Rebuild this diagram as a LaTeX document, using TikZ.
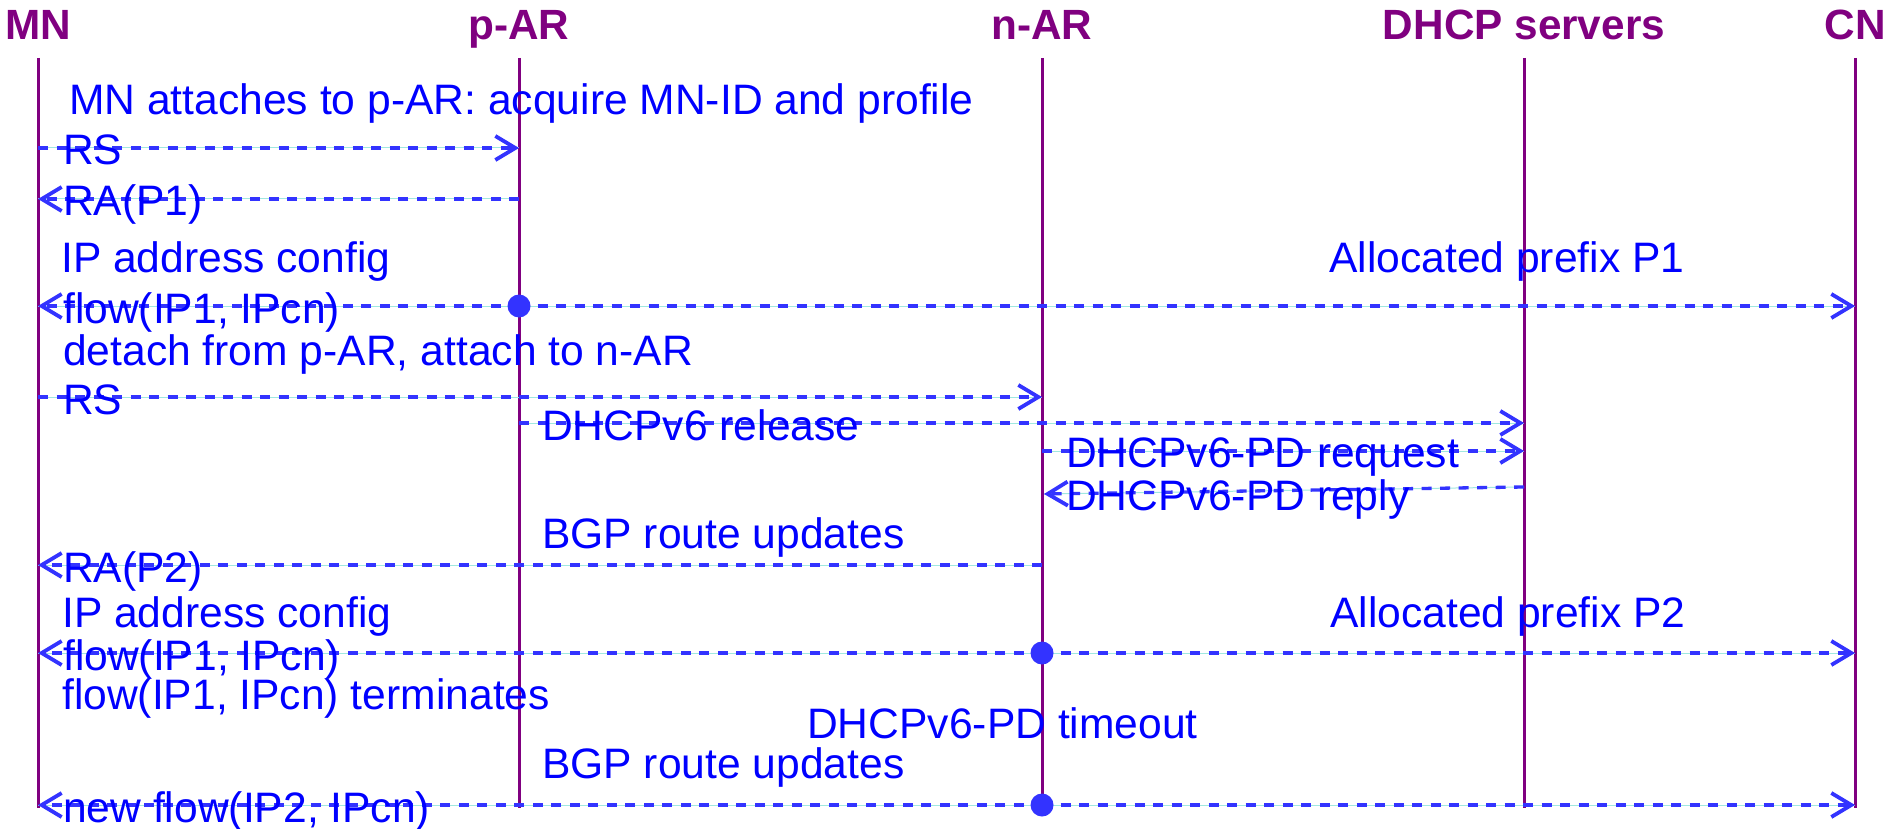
\documentclass[tikz,border=0pt]{standalone}
\usepackage{fontspec}
\setmainfont{Liberation Sans}
\usetikzlibrary{arrows.meta}
\definecolor{lifecol}{RGB}{128,0,128}
\definecolor{msgcol}{RGB}{51,51,255}
\definecolor{txtcol}{RGB}{0,0,255}
\definecolor{guidecol}{RGB}{160,232,224}
\tikzset{
  lifeline/.style={draw=lifecol, line width=3pt},
  header/.style={text=lifecol, font=\fontsize{42.3}{50}\selectfont\bfseries, anchor=base, inner sep=0pt},
  note/.style={text=txtcol, font=\fontsize{42.6}{50}\selectfont, anchor=base west, inner sep=0pt},
  guide/.style={draw=guidecol, line width=1pt},
  msg/.style={draw=msgcol, line width=3.3pt, dash pattern=on 10pt off 8.5pt,
    -{Straight Barb[length=20pt,width=24pt,line width=3.8pt]}},
  dot/.style={circle, fill=msgcol, minimum size=23pt, inner sep=0pt},
}
\begin{document}
\begin{tikzpicture}[x=1pt,y=-1pt]
\fill[white] (0,0) rectangle (1889,829);
\useasboundingbox (0,0) rectangle (1889,829);

% headers
\node[header] (hMN)   at (38,40)   {MN};
\node[header] (hpAR)  at (519,40)  {p-AR};
\node[header] (hnAR)  at (1042,40) {n-AR};
\node[header] (hDHCP) at (1524,40) {DHCP servers};
\node[header] (hCN)   at (1855,40) {CN};

% lifelines
\coordinate (tMN) at (38,58);   \coordinate (bMN) at (38,808);
\coordinate (tpAR) at (519,58); \coordinate (bpAR) at (519,808);
\coordinate (tnAR) at (1042,58); \coordinate (bnAR) at (1042,808);
\coordinate (tDHCP) at (1524,58); \coordinate (bDHCP) at (1524,808);
\coordinate (tCN) at (1855,58); \coordinate (bCN) at (1855,808);
\draw[lifeline] (tMN) -- (bMN);
\draw[lifeline] (tpAR) -- (bpAR);
\draw[lifeline] (tnAR) -- (bnAR);
\draw[lifeline] (tDHCP) -- (bDHCP);
\draw[lifeline] (tCN) -- (bCN);

% message end points
\coordinate (m1a) at (38,148);   \coordinate (m1b) at (519,148);
\coordinate (m2a) at (519,199);  \coordinate (m2b) at (38,199);
\coordinate (m3l) at (38,306);   \coordinate (m3r) at (1855,306);
\coordinate (m4a) at (38,397);   \coordinate (m4b) at (1042,397);
\coordinate (m5a) at (519,423);  \coordinate (m5b) at (1524,423);
\coordinate (m6a) at (1042,451); \coordinate (m6b) at (1524,451);
\coordinate (m7a) at (1524,487); \coordinate (m7b) at (1044,494);
\coordinate (m8a) at (1042,565); \coordinate (m8b) at (38,565);
\coordinate (m9l) at (38,653);   \coordinate (m9r) at (1855,653);
\coordinate (m10l) at (38,805);  \coordinate (m10r) at (1855,805);

\coordinate (d1) at (519,306);
\coordinate (d2) at (1042,653);
\coordinate (d3) at (1042,805);

% guide lines
\foreach \a/\b in {m1a/m1b, m2a/m2b, d1/m3l, d1/m3r, m4a/m4b, m5a/m5b, m6a/m6b, m7a/m7b, m8a/m8b, d2/m9l, d2/m9r, d3/m10l, d3/m10r}
  \draw[guide] (\a) -- (\b);

% messages
\draw[msg] (m1a) -- (m1b);
\draw[msg] (m2a) -- (m2b);
\draw[msg] (d1) -- (m3l);
\draw[msg] (d1) -- (m3r);
\draw[msg] (m4a) -- (m4b);
\draw[msg] (m5a) -- (m5b);
\draw[msg] (m6a) -- (m6b);
\draw[msg] (m7a) -- (m7b);
\draw[msg] (m8a) -- (m8b);
\draw[msg] (d2) -- (m9l);
\draw[msg] (d2) -- (m9r);
\draw[msg] (d3) -- (m10l);
\draw[msg] (d3) -- (m10r);

% dots
\node[dot] (dot1) at (d1) {};
\node[dot] (dot2) at (d2) {};
\node[dot] (dot3) at (d3) {};

% message labels
\node[note] (l1) at (63,165) {RS};
\node[note] (l2) at (63,215) {RA(P1)};
\node[note] (l3) at (63,323) {flow(IP1, IPcn)};
\node[note] (l4) at (63,414) {RS};
\node[note] (l5) at (542,440) {DHCPv6 release};
\node[note] (l6) at (1066,467) {DHCPv6-PD request};
\node[note] (l7) at (1066,510) {DHCPv6-PD reply};
\node[note] (l8) at (63,582) {RA(P2)};
\node[note] (l9) at (63,670) {flow(IP1, IPcn)};
\node[note] (l10) at (63,822) {new flow(IP2, IPcn)};

% notes
\node[note] (n1) at (69,115) {MN attaches to p-AR: acquire MN-ID and profile};
\node[note] (n2) at (61,272) {IP address config};
\node[note] (n3) at (1329,272) {Allocated prefix P1};
\node[note] (n4) at (63,365) {detach from p-AR, attach to n-AR};
\node[note] (n5) at (542,548) {BGP route updates};
\node[note] (n6) at (62,627) {IP address config};
\node[note] (n7) at (1330,627) {Allocated prefix P2};
\node[note] (n8) at (62,709) {flow(IP1, IPcn) terminates};
\node[note] (n9) at (807,738) {DHCPv6-PD timeout};
\node[note] (n10) at (542,778) {BGP route updates};
\end{tikzpicture}
\end{document}
